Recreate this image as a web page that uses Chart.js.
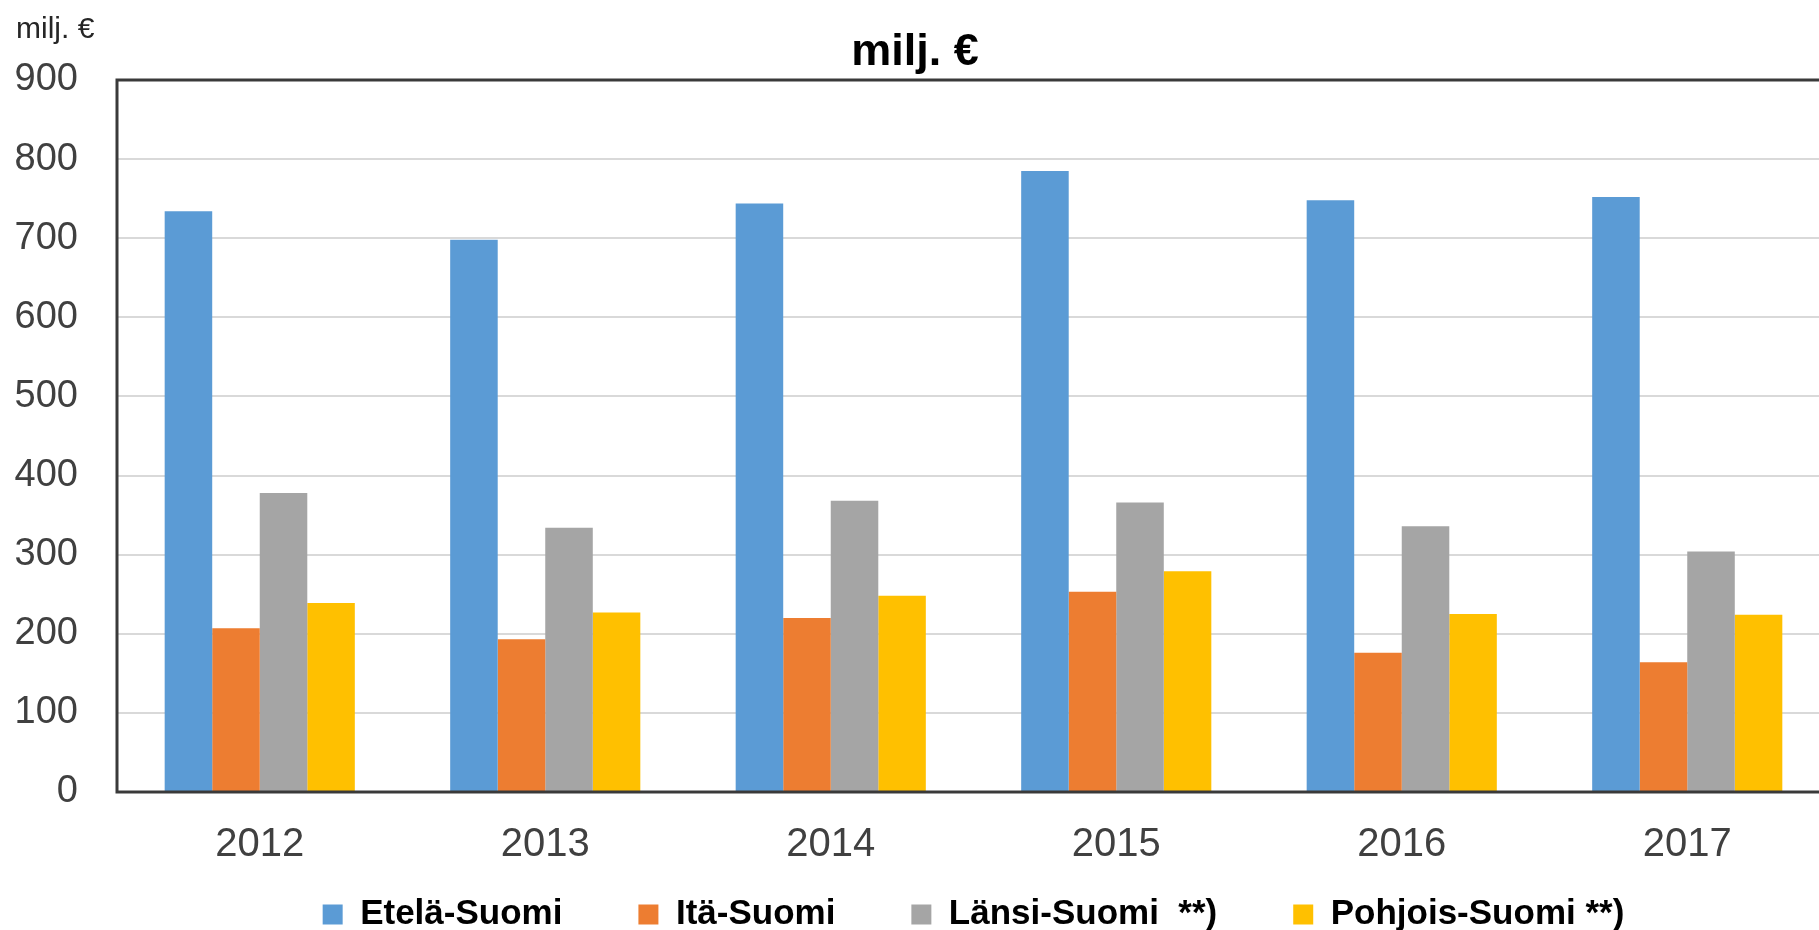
<!DOCTYPE html>
<html>
<head>
<meta charset="utf-8">
<script src="https://cdn.jsdelivr.net/npm/chart.js@4.4.1/dist/chart.umd.min.js"></script>
<style>
  html, body { margin: 0; padding: 0; background: #ffffff; overflow: hidden; }
  #wrap { width: 1840px; height: 930px; }
</style>
</head>
<body>
<div id="wrap"><canvas id="c" width="1840" height="930"></canvas></div>
<script>
const years = ['2012', '2013', '2014', '2015', '2016', '2017'];
const seriesNames = ['Etelä-Suomi', 'Itä-Suomi', 'Länsi-Suomi  **)', 'Pohjois-Suomi **)'];
const etelaSuomi   = [734, 698, 744, 785, 748, 752];
const itaSuomi     = [207, 193, 220, 253, 176, 164];
const lansiSuomi   = [378, 334, 368, 366, 336, 304];
const pohjoisSuomi = [239, 227, 248, 279, 225, 224];
const seriesColors = ['#5B9BD5', '#ED7D31', '#A5A5A5', '#FFC000'];
const yMin = 0, yMax = 900, yStep = 100;
const titleText = 'milj. €';
const unitText = 'milj. €';

const FONT = '"Liberation Sans", Arial, sans-serif';

const textPlugin = {
  id: 'texts',
  afterLayout(chart) {
    // keep the legend row close under the year labels, as in the reference
    const lg = chart.legend;
    if (lg) {
      lg.top = 821;
      lg.bottom = 930;
      lg.height = lg.bottom - lg.top;
    }
  },
  afterDraw(chart) {
    const ctx = chart.ctx;
    ctx.save();
    ctx.fillStyle = '#000000';
    ctx.textBaseline = 'alphabetic';
    ctx.textAlign = 'center';
    ctx.font = 'bold 45px ' + FONT;
    ctx.fillText(titleText, 915, 65);
    ctx.textAlign = 'left';
    ctx.fillStyle = '#262626';
    ctx.font = '30px ' + FONT;
    ctx.fillText(unitText, 16, 38);
    ctx.restore();
  },
  afterDatasetsDraw(chart) {
    const a = chart.chartArea;
    const ctx = chart.ctx;
    ctx.save();
    ctx.strokeStyle = '#3a3a3a';
    ctx.lineWidth = 3;
    ctx.strokeRect(a.left, a.top, a.right - a.left, a.bottom - a.top);
    ctx.restore();
  }
};

const datasets = [etelaSuomi, itaSuomi, lansiSuomi, pohjoisSuomi].map((vals, i) => ({
  label: seriesNames[i],
  data: vals,
  backgroundColor: seriesColors[i],
  borderWidth: 0,
  categoryPercentage: 0.666,
  barPercentage: 1.0
}));

new Chart(document.getElementById('c'), {
  type: 'bar',
  data: { labels: years, datasets },
  plugins: [textPlugin],
  options: {
    responsive: false,
    animation: false,
    devicePixelRatio: 1,
    layout: { padding: { left: 0, right: 10, top: 80, bottom: 0 } },
    plugins: {
      title: { display: false },
      tooltip: { enabled: false },
      legend: {
        position: 'bottom',
        fullSize: false,
        maxHeight: 58,
        labels: {
          boxWidth: 20,
          boxHeight: 20,
          padding: 76,
          color: '#000000',
          font: { family: FONT, size: 35, weight: 'bold' }
        }
      }
    },
    scales: {
      x: {
        grid: { display: false, drawTicks: false },
        border: { display: false },
        ticks: {
          color: '#404040',
          padding: 29,
          font: { family: FONT, size: 40 }
        },
        afterFit(scale) { scale.height = 80; }
      },
      y: {
        min: yMin,
        max: yMax,
        grid: { color: '#d9d9d9', lineWidth: 2, drawTicks: false },
        border: { display: false },
        ticks: {
          stepSize: yStep,
          color: '#404040',
          padding: 39,
          font: { family: FONT, size: 38 }
        },
        afterFit(scale) { scale.width = 117; }
      }
    }
  }
});
</script>
</body>
</html>
